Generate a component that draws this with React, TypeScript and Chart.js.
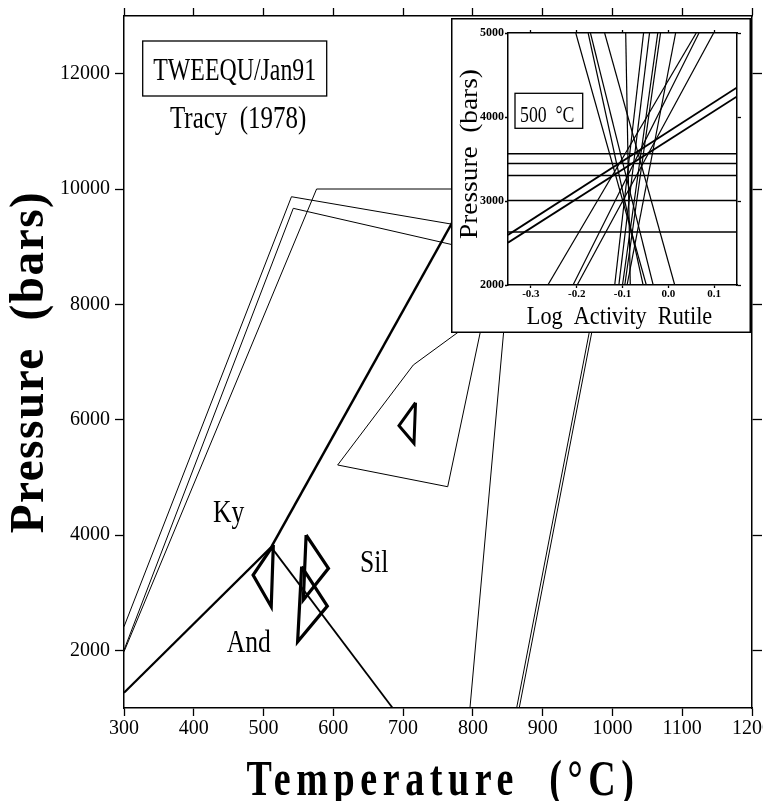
import React, { useEffect, useRef } from "react";
import { Chart, registerables } from "chart.js";

Chart.register(...registerables);

// ---------------- main diagram: Temperature (°C) vs Pressure (bars) ----------------
const tempTicks = [300, 400, 500, 600, 700, 800, 900, 1000, 1100, 1200];
const pressTicks = [2000, 4000, 6000, 8000, 10000, 12000];

const kyOuter = [[300, 2410], [540, 9866], [800, 9328]];
const kyMiddle = [[300, 2006], [542.6, 9665], [800, 8953]];
const kyInner = [[300, 1976], [576, 10000], [800, 10000]];
const andKy = [[300, 1265], [511, 3790]];
const kySil = [[511, 3790], [790, 9844]];
const andSil = [[511, 3790], [685, 1000]];
const fieldOutline = [[790, 7615], [714.6, 6948], [606.2, 5214], [763.9, 4837], [815.5, 7800]];
const steepLine = [[795.8, 1000], [855, 9000]];
const doubleLineA = [[862.7, 1000], [985, 8656]];
const doubleLineB = [[866.4, 1000], [988.5, 8650]];
const diamond1 = [[514, 3826], [485, 3306], [511, 2757], [514, 3826]];
const diamond2 = [[561, 4000], [593, 3422], [557, 2873], [561, 4000]];
const diamond3 = [[554.6, 3451], [591.4, 2768], [548.8, 2150], [554.6, 3451]];
const triangle4 = [[717.8, 6294], [694.1, 5895], [715.6, 5590], [717.8, 6294]];

const fieldLabelText = ["Ky", "And", "Sil"];
const fieldLabelT = [427.5, 447.2, 638.2];
const fieldLabelP = [4230, 1976, 3363];

// ---------------- inset: Log Activity Rutile vs Pressure at 500 °C ----------------
const rutileTicks = [-0.3, -0.2, -0.1, 0.0, 0.1];
const insetPressTicks = [2000, 3000, 4000, 5000];
const horizontalP = [3562, 3446, 3303, 3005, 2630];
const shallowStart = [[-0.35, 2596], [-0.35, 2504]];
const shallowEnd = [[0.15, 4352], [0.15, 4245]];
const steepAt2000 = [-0.048, -0.055, -0.033, 0.014, -0.083, -0.263, -0.208, -0.199, -0.117, -0.108, -0.1, -0.095, -0.09];
const steepAt5000 = [-0.202, -0.175, -0.17, -0.139, -0.093, 0.061, 0.067, 0.099, -0.054, -0.041, -0.023, -0.017, 0.016];

const SERIF = '"Liberation Serif", "Times New Roman", serif';

const toXY = (pts: number[][]) => pts.map(([x, y]) => ({ x, y }));
const lineSet = (pts: number[][], w: number) => ({
  data: toXY(pts),
  showLine: true,
  borderColor: "#000",
  backgroundColor: "#000",
  borderWidth: w,
  pointRadius: 0,
  pointHoverRadius: 0,
  borderJoinStyle: "miter" as const,
  borderCapStyle: "butt" as const,
  fill: false,
  tension: 0,
});

function drawText(
  ctx: CanvasRenderingContext2D,
  text: string,
  x: number,
  y: number,
  font: string,
  sx: number,
  spacing: number,
  rot: number,
  align: CanvasTextAlign
) {
  ctx.save();
  ctx.translate(x, y);
  if (rot) ctx.rotate(rot);
  ctx.scale(sx, 1);
  ctx.font = font;
  (ctx as any).letterSpacing = spacing / sx + "px";
  ctx.textAlign = align;
  ctx.textBaseline = "alphabetic";
  ctx.fillStyle = "#000";
  ctx.fillText(text, 0, 0);
  ctx.restore();
}

function makeAxis(
  min: number,
  max: number,
  ticksArr: number[],
  fit: (s: any) => void,
  showLabels: boolean,
  font: any,
  tickLen: number,
  pad: number,
  fmt: (v: number) => string,
  position: string
) {
  return {
    type: "linear" as const,
    position,
    min,
    max,
    afterBuildTicks: (s: any) => {
      s.ticks = ticksArr.map((v) => ({ value: v }));
    },
    afterFit: (s: any) => {
      fit(s);
      s.paddingLeft = 0;
      s.paddingRight = 0;
      s.paddingTop = 0;
      s.paddingBottom = 0;
    },
    ticks: {
      display: showLabels,
      color: "#000",
      font,
      padding: pad,
      autoSkip: false,
      maxRotation: 0,
      minRotation: 0,
      callback: (v: any) => fmt(Number(v)),
    },
    grid: {
      drawOnChartArea: false,
      drawTicks: true,
      tickLength: tickLen,
      tickWidth: 1.3,
      tickColor: "#000",
      color: "#000",
    },
    border: { display: true, color: "#000", width: 1.5 },
  };
}

const mainTextPlugin = {
  id: "mainText",
  afterDraw(chart: any) {
    const ctx: CanvasRenderingContext2D = chart.ctx;
    const xs = chart.scales.x;
    const ys = chart.scales.y;
    ctx.save();
    ctx.strokeStyle = "#000";
    ctx.lineWidth = 1.3;
    ctx.strokeRect(142.7, 41, 184, 55);
    ctx.restore();
    drawText(ctx, "TWEEQU/Jan91", 153.3, 80, `32px ${SERIF}`, 0.745, 0, 0, "left");
    drawText(ctx, "Tracy  (1978)", 170, 128.3, `32px ${SERIF}`, 0.78, 0, 0, "left");
    fieldLabelText.forEach((t, i) => {
      drawText(
        ctx,
        t,
        xs.getPixelForValue(fieldLabelT[i]),
        ys.getPixelForValue(fieldLabelP[i]),
        `32px ${SERIF}`,
        0.8,
        0,
        0,
        "left"
      );
    });
    const cx = (chart.chartArea.left + chart.chartArea.right) / 2 + 5;
    const cy = (chart.chartArea.top + chart.chartArea.bottom) / 2;
    drawText(ctx, "Temperature  (°C)", cx, 795, `bold 50px ${SERIF}`, 0.76, 5.6, 0, "center");
    drawText(ctx, "Pressure  (bars)", 43, cy, `bold 48px ${SERIF}`, 0.98, 1.6, -Math.PI / 2, "center");
  },
};

const insetPlugin = {
  id: "insetFrame",
  beforeDraw(chart: any) {
    const ctx: CanvasRenderingContext2D = chart.ctx;
    ctx.save();
    ctx.fillStyle = "#fff";
    ctx.fillRect(0, 0, chart.width, chart.height);
    ctx.restore();
  },
  afterDraw(chart: any) {
    const ctx: CanvasRenderingContext2D = chart.ctx;
    ctx.save();
    ctx.strokeStyle = "#000";
    ctx.lineWidth = 1.5;
    ctx.strokeRect(0.75, 0.75, chart.width - 1.5, chart.height - 1.5);
    ctx.lineWidth = 1.3;
    ctx.strokeRect(64, 75.3, 67.7, 35);
    ctx.restore();
    drawText(ctx, "500  °C", 69, 104, `24px ${SERIF}`, 0.74, 0, 0, "left");
    const cx = (chart.chartArea.left + chart.chartArea.right) / 2 - 3;
    const cy = (chart.chartArea.top + chart.chartArea.bottom) / 2 - 5;
    drawText(ctx, "Log  Activity  Rutile", cx, 306, `25px ${SERIF}`, 0.89, 0, 0, "center");
    drawText(ctx, "Pressure  (bars)", 25.7, cy, `26px ${SERIF}`, 1.05, 0, -Math.PI / 2, "center");
  },
};

export default function App() {
  const mainRef = useRef<HTMLCanvasElement>(null);
  const insetRef = useRef<HTMLCanvasElement>(null);

  useEffect(() => {
    const tickFont = { family: SERIF, size: 20 };
    const mainChart = new Chart(mainRef.current as HTMLCanvasElement, {
      type: "scatter",
      data: {
        datasets: [
          lineSet(kyOuter, 1),
          lineSet(kyMiddle, 1),
          lineSet(kyInner, 1),
          lineSet(andKy, 2.2),
          lineSet(kySil, 2.5),
          lineSet(andSil, 1.8),
          lineSet(fieldOutline, 1),
          lineSet(steepLine, 1),
          lineSet(doubleLineA, 1),
          lineSet(doubleLineB, 1),
          lineSet(diamond1, 3.2),
          lineSet(diamond2, 3.2),
          lineSet(diamond3, 3.2),
          lineSet(triangle4, 3),
        ] as any,
      },
      options: {
        animation: false,
        responsive: false,
        events: [],
        layout: { padding: 0, autoPadding: false } as any,
        plugins: { legend: { display: false }, tooltip: { enabled: false } },
        scales: {
          x: makeAxis(300, 1200, tempTicks, (s) => (s.height = 93), true, tickFont, 8, 1, (v) => String(v), "bottom"),
          x2: makeAxis(300, 1200, tempTicks, (s) => (s.height = 16), false, tickFont, 8, 1, (v) => String(v), "top"),
          y: makeAxis(1000, 13000, pressTicks, (s) => (s.width = 124), true, tickFont, 9, 5, (v) => String(v), "left"),
          y2: makeAxis(1000, 13000, pressTicks, (s) => (s.width = 11), false, tickFont, 10, 1, (v) => String(v), "right"),
        } as any,
      },
      plugins: [mainTextPlugin],
    });

    const insetDatasets: any[] = [];
    horizontalP.forEach((p) => insetDatasets.push(lineSet([[-0.35, p], [0.15, p]], 1.5)));
    shallowStart.forEach((s, i) => insetDatasets.push(lineSet([s, shallowEnd[i]], 1.8)));
    steepAt2000.forEach((x0, i) => insetDatasets.push(lineSet([[x0, 2000], [steepAt5000[i], 5000]], 1.2)));

    const insetXFont = { family: SERIF, size: 11, weight: "bold" };
    const insetYFont = { family: SERIF, size: 12, weight: "bold" };
    const fmtR = (v: number) => (Math.abs(v) < 1e-9 ? "0.0" : v.toFixed(1));
    const insetChart = new Chart(insetRef.current as HTMLCanvasElement, {
      type: "scatter",
      data: { datasets: insetDatasets },
      options: {
        animation: false,
        responsive: false,
        events: [],
        layout: { padding: 0, autoPadding: false } as any,
        plugins: { legend: { display: false }, tooltip: { enabled: false } },
        scales: {
          x: makeAxis(-0.35, 0.15, rutileTicks, (s) => (s.height = 48), true, insetXFont, 3, 0, fmtR, "bottom"),
          x2: makeAxis(-0.35, 0.15, rutileTicks, (s) => (s.height = 15), false, insetXFont, 3, 0, fmtR, "top"),
          y: makeAxis(2000, 5000, insetPressTicks, (s) => (s.width = 57), true, insetYFont, 3, 1, (v) => String(v), "left"),
          y2: makeAxis(2000, 5000, insetPressTicks, (s) => (s.width = 14), false, insetYFont, 4, 1, (v) => String(v), "right"),
        } as any,
      },
      plugins: [insetPlugin],
    });

    return () => {
      mainChart.destroy();
      insetChart.destroy();
    };
  }, []);

  return (
    <div style={{ position: "absolute", left: 0, top: 0, width: 763, height: 801, background: "#fff", overflow: "hidden" }}>
      <canvas ref={mainRef} width={763} height={801} style={{ position: "absolute", left: 0, top: 0 }} />
      <canvas ref={insetRef} width={300} height={315} style={{ position: "absolute", left: 451, top: 18 }} />
    </div>
  );
}
